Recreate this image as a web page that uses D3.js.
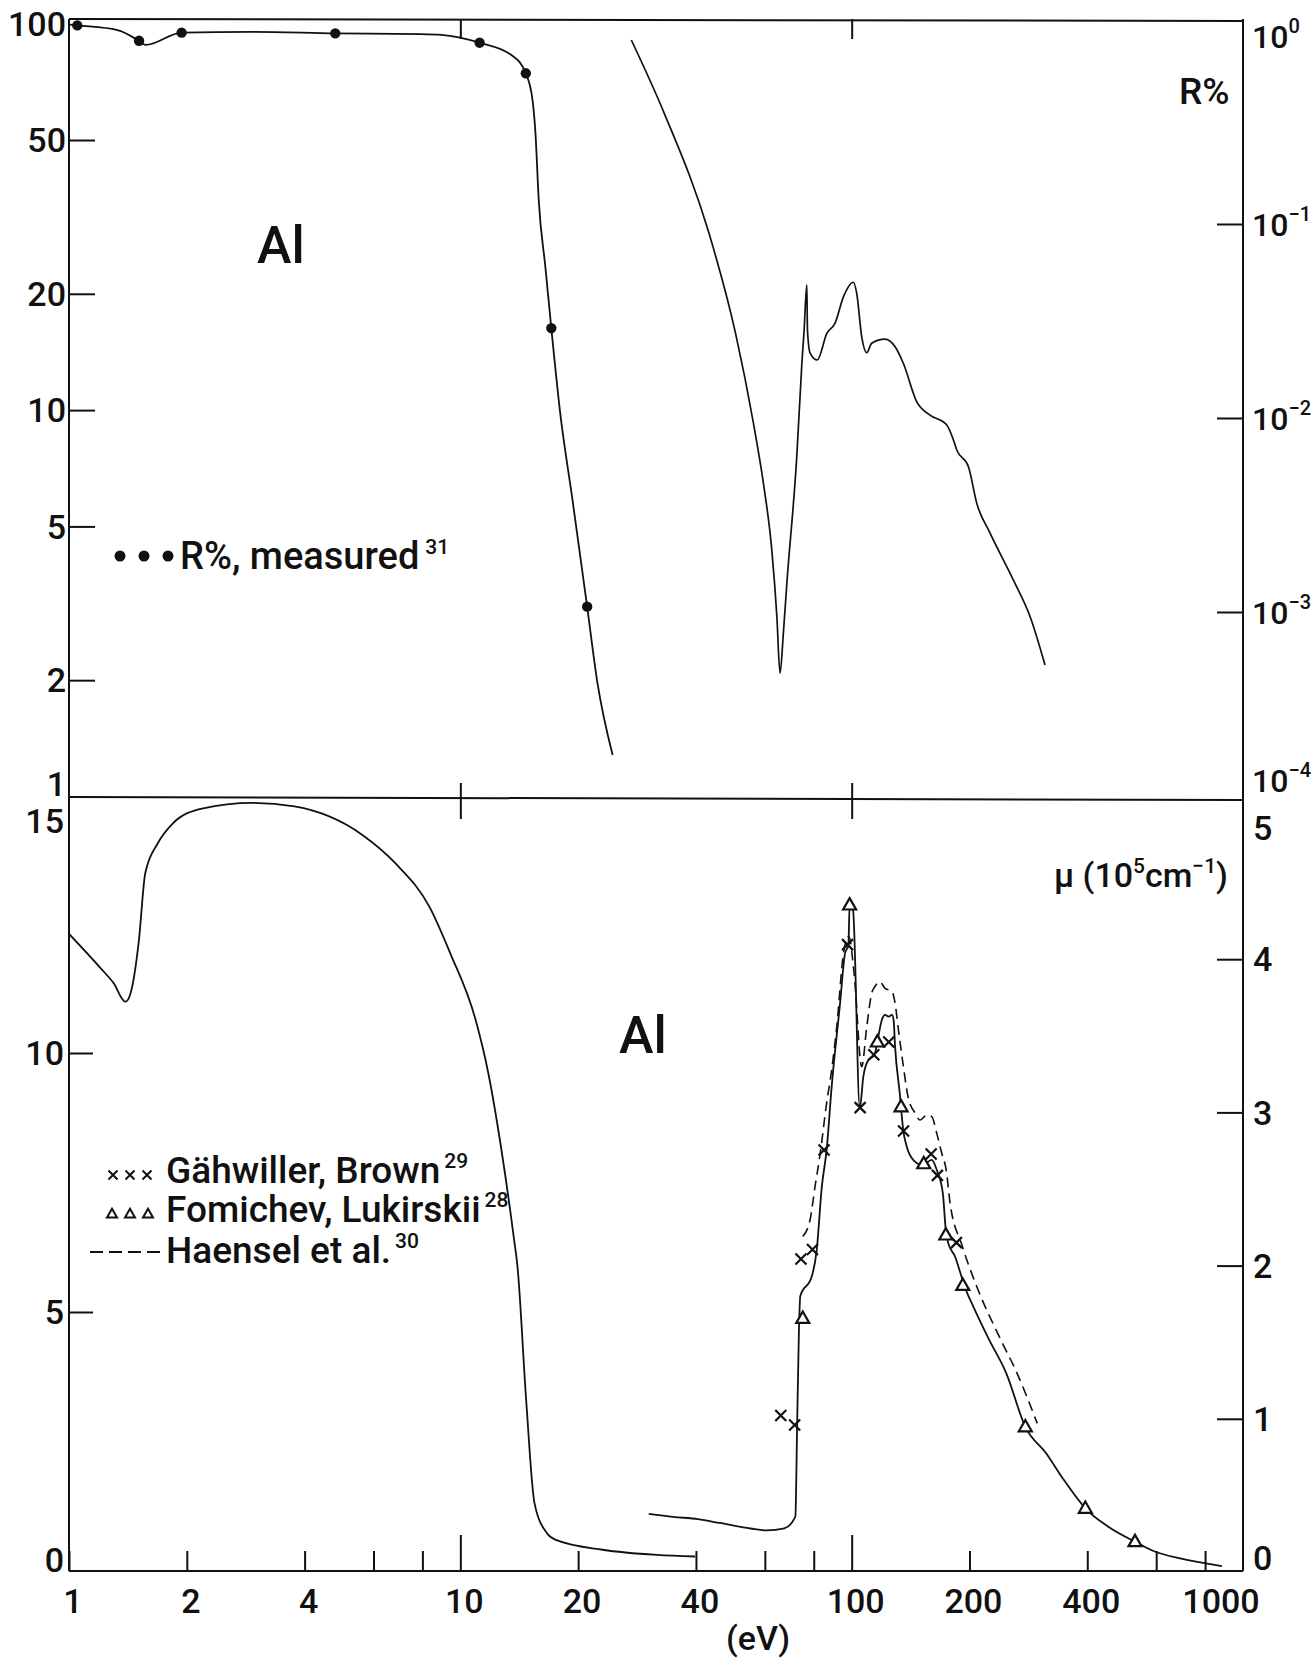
<!DOCTYPE html>
<html><head><meta charset="utf-8">
<script src="https://cdn.jsdelivr.net/npm/d3@7"></script>
<style>
html,body{margin:0;padding:0;background:#fff;}
svg text{font-family:Roboto,"DejaVu Sans",sans-serif;font-weight:500;fill:#111;}
</style></head><body>
<svg id="chart" width="1316" height="1659"></svg>
<script>
// ---------- data: photon energy in eV ----------
const energyTicks = [1, 2, 4, 6, 8, 10, 20, 40, 60, 80, 100, 200, 400, 600, 800];
const energyLabels = [1, 2, 4, 10, 20, 40, 100, 200, 400, 1000];
const reflLabels = [100, 50, 20, 10, 5, 2, 1];
const reflTicks = [50, 20, 10, 5, 2];
const reflHighExponents = [0, -1, -2, -3, -4];
const reflHighTicks = [1e-1, 1e-2, 1e-3];
const lowLabels = [0, 5, 10, 15];
const lowTicks = [5, 10];
const muLabels = [0, 1, 2, 3, 4, 5];
const muTicks = [1, 2, 3, 4];

// reflectance R% (left scale), measured points and smooth curve
const reflMeasured = [[1.05, 99], [1.51, 90.3], [1.94, 94.8], [4.79, 94.4], [11.2, 89.3],
  [14.7, 74.4], [17.08, 16.3], [21.09, 3.10]];
const reflLow = [[1.0, 99.5], [1.05, 99], [1.33, 96.3], [1.51, 90.3], [1.57, 88.1], [1.94, 94.8],
  [2.94, 95.3], [4.79, 94.4], [7.93, 94.0], [8.95, 93.6], [11.2, 89.3], [13.5, 83], [14.7, 74.4],
  [15.29, 63.5], [15.56, 52], [15.86, 35], [16.49, 23.5], [17.08, 16.3], [17.96, 10.0],
  [19.35, 5.85], [21.09, 3.10], [22.4, 1.97], [24.5, 1.28]];
// reflectance R% at higher energies (right log scale)
const reflHigh = [[27.35, 0.888], [33.2, 0.372], [43.2, 0.0895], [50.5, 0.0273], [56.1, 0.0094],
  [59.5, 0.0046], [62.5, 0.00209], [64.4, 0.000946], [65.6, 0.000483], [66.9, 0.000776],
  [68.3, 0.00141], [72.4, 0.00632], [74.6, 0.0191], [75.6, 0.0284], [76.8, 0.0485], [77.1, 0.0284],
  [78.3, 0.0216], [81.7, 0.0199], [86.4, 0.0273], [90.7, 0.0308], [95.3, 0.0422], [101, 0.0501],
  [103, 0.044], [106.1, 0.0262], [109.3, 0.0217], [112.5, 0.0243], [121.7, 0.0255], [129.1, 0.0233],
  [135.6, 0.0191], [146.7, 0.0121], [158.6, 0.01035], [175, 0.0092], [182, 0.0077], [185.6, 0.00684],
  [198.8, 0.00561], [208.8, 0.00363], [225.8, 0.00255], [259, 0.00146], [285.8, 0.000946], [312, 0.000533]];

// lower panel, left scale (1 - 40 eV)
const lowEnergyCurve = [[1.0, 12.3], [1.207, 11.63], [1.30, 11.35], [1.394, 10.99], [1.436, 11.15],
  [1.509, 12.18], [1.566, 13.47], [1.686, 14.05], [1.84, 14.43], [2.186, 14.72], [2.94, 14.83],
  [3.77, 14.76], [5.62, 14.21], [6.83, 13.66], [8.34, 12.82], [9.43, 11.92], [10.94, 10.64],
  [11.79, 9.61], [12.7, 8.19], [13.69, 6.45], [14.0, 5.87], [14.73, 3.30], [15.47, 1.31],
  [16.65, 0.73], [17.55, 0.60], [23.1, 0.41], [31.8, 0.31], [39.8, 0.28]];

// absorption coefficient mu (10^5 cm^-1), right scale
const muSolid = [[30.3, 0.38], [35, 0.36], [40.5, 0.345], [46, 0.32], [52, 0.295], [60.6, 0.272],
  [67.3, 0.285], [71.8, 0.361], [72.5, 0.905], [73.3, 1.56], [73.9, 1.80], [79.1, 1.93], [81.4, 2.10],
  [83.9, 2.515], [86.3, 2.755], [88.9, 3.168], [93.4, 3.712], [96.2, 4.04], [98.1, 4.09], [98.8, 4.354],
  [100.8, 4.32], [104.9, 3.027], [107.1, 3.233], [110.3, 3.342], [114.3, 3.375], [116.3, 3.46],
  [119.4, 3.603], [121.7, 3.636], [124.3, 3.625], [126.8, 3.636], [128, 3.603], [129.1, 3.429],
  [132.7, 3.125], [135.6, 2.874], [138.3, 2.776], [143.8, 2.689], [152, 2.657], [160.2, 2.69],
  [165, 2.624], [171, 2.472], [174, 2.232], [176.6, 2.145], [183.8, 2.058], [189.7, 1.95],
  [194.5, 1.862], [204.6, 1.732], [223.6, 1.525], [248.4, 1.297], [277.8, 0.948], [314, 0.775],
  [348.7, 0.60], [395.4, 0.416], [452.7, 0.296], [529.7, 0.198], [597, 0.132], [691, 0.089], [883, 0.039]];
const muDashed = [[75.0, 2.19], [78.3, 2.30], [80.6, 2.515], [83.1, 2.733], [86.3, 3.06], [88.9, 3.277],
  [91.6, 3.559], [95.3, 4.04], [98.3, 4.15], [101.5, 3.9], [106.1, 3.298], [109.3, 3.56], [112.5, 3.777],
  [114.6, 3.82], [117.9, 3.853], [121.7, 3.81], [126.8, 3.79], [129.1, 3.712], [131.7, 3.538],
  [135.6, 3.298], [139.3, 3.103], [145.4, 2.994], [149.6, 2.95], [155.5, 2.983], [160.2, 2.972],
  [165, 2.863], [169.9, 2.733], [174.4, 2.624], [178.4, 2.41], [191.3, 2.134], [209, 1.86],
  [239.5, 1.525], [264.7, 1.297], [298, 0.97]];
const gahwillerBrown = [[65.9, 1.021], [71.5, 0.959], [74.2, 2.043], [79.4, 2.105], [85.0, 2.754],
  [97.6, 4.095], [105.1, 3.031], [113.9, 3.376], [124.4, 3.459], [135.7, 2.878], [159.6, 2.728],
  [165.6, 2.589], [185.2, 2.15]];
const fomichevLukirskii = [[75.0, 1.656], [98.8, 4.354], [116.3, 3.46], [133.7, 3.037], [152.8, 2.665],
  [174, 2.2], [192.3, 1.871], [277.8, 0.948], [395.4, 0.416], [529.7, 0.198]];

// ---------- layout ----------
const X0 = 69, X1 = 1243, TOP = 19, MID = 797, BOT = 1571;
const svg = d3.select("#chart");
svg.append("rect").attr("width", 1316).attr("height", 1659).attr("fill", "#fff");

const x = d3.scaleLog().domain([1, 1000]).range([X0, X1]);
const yReflL = d3.scaleLog().domain([1, 100]).range([796.5, 23.7]);
const yReflR = d3.scaleLog().domain([1e-4, 1]).range([806, 30]);
const yLow = d3.scaleLinear().domain([0, 15]).range([BOT, 794]);
const yMu = d3.scaleLinear().domain([0, 5]).range([1572, 806]);

const ink = "#111";
const defs = svg.append("defs");
defs.append("clipPath").attr("id", "cTop").append("rect").attr("x", X0).attr("y", TOP).attr("width", X1 - X0).attr("height", MID - TOP);
defs.append("clipPath").attr("id", "cBot").append("rect").attr("x", X0).attr("y", MID).attr("width", X1 - X0).attr("height", BOT - MID);

// ---------- axes (ticks inward) ----------
function styleAxis(g) {
  g.select(".domain").remove();
  g.selectAll("line").attr("stroke", ink).attr("stroke-width", 2);
  g.selectAll("text").remove();
}
svg.append("g").attr("transform", `translate(0,${BOT})`)
  .call(d3.axisBottom(x).tickValues(energyTicks).tickSize(-20).tickSizeOuter(0)).call(styleAxis)
  .selectAll(".tick line").filter(d => d === 10 || d === 100).attr("y2", -36);
svg.append("g").attr("transform", `translate(0,${TOP})`)
  .call(d3.axisTop(x).tickValues([10, 100]).tickSize(-20).tickSizeOuter(0)).call(styleAxis);
svg.append("g").attr("transform", `translate(0,${MID})`)
  .call(d3.axisBottom(x).tickValues([10, 100]).tickSize(22).tickSizeOuter(0)).call(styleAxis);
svg.append("g").attr("transform", `translate(0,${MID})`)
  .call(d3.axisTop(x).tickValues([10, 100]).tickSize(14).tickSizeOuter(0)).call(styleAxis);
svg.append("g").attr("transform", `translate(${X0},0)`)
  .call(d3.axisLeft(yReflL).tickValues(reflTicks).tickSize(-26).tickSizeOuter(0)).call(styleAxis);
svg.append("g").attr("transform", `translate(${X1},0)`)
  .call(d3.axisRight(yReflR).tickValues(reflHighTicks).tickSize(-26).tickSizeOuter(0)).call(styleAxis);
svg.append("g").attr("transform", `translate(${X0},0)`)
  .call(d3.axisLeft(yLow).tickValues(lowTicks).tickSize(-24).tickSizeOuter(0)).call(styleAxis);
svg.append("g").attr("transform", `translate(${X1},0)`)
  .call(d3.axisRight(yMu).tickValues(muTicks).tickSize(-26).tickSizeOuter(0)).call(styleAxis);

// frame
const frame = svg.append("g").attr("stroke", ink).attr("stroke-width", 2).attr("fill", "none");
frame.append("line").attr("x1", X0).attr("x2", X1).attr("y1", TOP).attr("y2", TOP + 2);
frame.append("line").attr("x1", X0).attr("x2", X1).attr("y1", MID).attr("y2", MID + 3);
frame.append("line").attr("x1", X0).attr("x2", X1).attr("y1", BOT).attr("y2", BOT);
frame.append("line").attr("x1", X0).attr("x2", X0).attr("y1", TOP).attr("y2", BOT);
frame.append("line").attr("x1", X1).attr("x2", X1).attr("y1", TOP).attr("y2", BOT);

// ---------- tick labels ----------
const fs = 34;
const clamp = (v, lo, hi) => Math.max(lo, Math.min(hi, v));
svg.append("g").selectAll("text").data(energyLabels).join("text")
  .attr("x", d => x(d) + (d === 1000 ? -22 : 4)).attr("y", 1613)
  .attr("text-anchor", "middle").attr("font-size", fs).text(d => d);
svg.append("text").attr("x", 758).attr("y", 1650).attr("text-anchor", "middle")
  .attr("font-size", fs).text("(eV)");

svg.append("g").selectAll("text").data(reflLabels).join("text")
  .attr("x", 66).attr("y", d => Math.min(yReflL(d), MID - 13))
  .attr("dy", "0.36em").attr("text-anchor", "end").attr("font-size", fs).text(d => d);
svg.append("g").selectAll("text").data(lowLabels).join("text")
  .attr("x", 64).attr("y", d => clamp(yLow(d), MID + 24, BOT - 11))
  .attr("dy", "0.36em").attr("text-anchor", "end").attr("font-size", fs).text(d => d);
svg.append("g").selectAll("text").data(muLabels).join("text")
  .attr("x", 1253).attr("y", d => clamp(yMu(d), MID + 31, BOT - 13))
  .attr("dy", "0.36em").attr("font-size", fs).text(d => d);
const hiLab = svg.append("g").selectAll("text").data(reflHighExponents).join("text")
  .attr("x", 1252).attr("y", d => clamp(yReflR(Math.pow(10, d)), TOP + 17, MID - 17))
  .attr("dy", "0.36em").attr("font-size", 32);
hiLab.append("tspan").text("10");
hiLab.append("tspan").attr("font-size", 20).attr("dy", "-0.75em").text(d => d === 0 ? "0" : "\u2212" + (-d));

// ---------- axis titles and annotations ----------
svg.append("text").attr("x", 1179).attr("y", 104).attr("font-size", 37).text("R%");
const muT = svg.append("text").attr("x", 1228).attr("y", 887).attr("font-size", 34).attr("text-anchor", "end");
muT.append("tspan").text("\u03bc (10");
muT.append("tspan").attr("font-size", 21).attr("dy", -14).text("5");
muT.append("tspan").attr("dy", 14).text("cm");
muT.append("tspan").attr("font-size", 21).attr("dy", -14).text("\u22121");
muT.append("tspan").attr("dy", 14).text(")");
svg.append("text").attr("x", 257).attr("y", 263).attr("font-size", 52).attr("font-weight", "bold").text("Al");
svg.append("text").attr("x", 619).attr("y", 1053).attr("font-size", 52).attr("font-weight", "bold").text("Al");

// ---------- curves ----------
const lineTop = d3.line().x(d => x(d[0])).curve(d3.curveMonotoneX);
const gTop = svg.append("g").attr("clip-path", "url(#cTop)");
const gBot = svg.append("g").attr("clip-path", "url(#cBot)");
gTop.append("path").datum(reflLow).attr("fill", "none").attr("stroke", ink).attr("stroke-width", 1.8)
  .attr("d", lineTop.y(d => yReflL(d[1])));
gTop.append("path").datum(reflHigh).attr("fill", "none").attr("stroke", ink).attr("stroke-width", 1.7)
  .attr("d", d3.line().x(d => x(d[0])).y(d => yReflR(d[1])).curve(d3.curveMonotoneX));
gTop.append("g").selectAll("circle").data(reflMeasured).join("circle")
  .attr("cx", d => x(d[0])).attr("cy", d => yReflL(d[1])).attr("r", 5.2).attr("fill", ink);

gBot.append("path").datum(lowEnergyCurve).attr("fill", "none").attr("stroke", ink).attr("stroke-width", 1.8)
  .attr("d", d3.line().x(d => x(d[0])).y(d => yLow(d[1])).curve(d3.curveMonotoneX));
const muLine = d3.line().x(d => x(d[0])).y(d => yMu(d[1])).curve(d3.curveMonotoneX);
gBot.append("path").datum(muSolid).attr("fill", "none").attr("stroke", ink).attr("stroke-width", 1.8).attr("d", muLine);
gBot.append("path").datum(muDashed).attr("fill", "none").attr("stroke", ink).attr("stroke-width", 1.6)
  .attr("stroke-dasharray", "10 6").attr("d", muLine);

const crossPath = s => `M${-s},${-s}L${s},${s}M${-s},${s}L${s},${-s}`;
const triPath = s => `M0,${-s * 1.05}L${s},${s * 0.7}L${-s},${s * 0.7}Z`;
gBot.append("g").selectAll("path").data(gahwillerBrown).join("path")
  .attr("transform", d => `translate(${x(d[0])},${yMu(d[1])})`)
  .attr("d", crossPath(5.5)).attr("stroke", ink).attr("stroke-width", 2.2).attr("fill", "none");
gBot.append("g").selectAll("path").data(fomichevLukirskii).join("path")
  .attr("transform", d => `translate(${x(d[0])},${yMu(d[1])})`)
  .attr("d", triPath(6.5)).attr("stroke", ink).attr("stroke-width", 2.2).attr("fill", "#fff");

// ---------- legends ----------
const legTop = svg.append("g");
[120, 144, 168].forEach(cx => legTop.append("circle").attr("cx", cx).attr("cy", 556).attr("r", 5.5).attr("fill", ink));
const lt = legTop.append("text").attr("x", 180).attr("y", 569).attr("font-size", 38);
lt.append("tspan").text("R%, measured");
lt.append("tspan").attr("font-size", 21).attr("dx", 6).attr("dy", -15).text("31");

const legBot = svg.append("g");
const legRows = [
  { y: 1183, name: "G\u00e4hwiller, Brown", ref: "29", sym: "x" },
  { y: 1222, name: "Fomichev, Lukirskii", ref: "28", sym: "t" },
  { y: 1263, name: "Haensel et al.", ref: "30", sym: "d" }
];
legRows.forEach(r => {
  if (r.sym === "x") {
    [113, 130, 147].forEach(cx => legBot.append("path").attr("transform", `translate(${cx},${r.y - 8})`)
      .attr("d", crossPath(4.5)).attr("stroke", ink).attr("stroke-width", 2).attr("fill", "none"));
  } else if (r.sym === "t") {
    [112, 130, 148].forEach(cx => legBot.append("path").attr("transform", `translate(${cx},${r.y - 8})`)
      .attr("d", triPath(5)).attr("stroke", ink).attr("stroke-width", 2).attr("fill", "none"));
  } else {
    legBot.append("line").attr("x1", 90).attr("x2", 165).attr("y1", r.y - 11).attr("y2", r.y - 11)
      .attr("stroke", ink).attr("stroke-width", 2).attr("stroke-dasharray", "13 6");
  }
  const t = legBot.append("text").attr("x", 166).attr("y", r.y).attr("font-size", 37);
  t.append("tspan").text(r.name);
  t.append("tspan").attr("font-size", 21).attr("dx", 4).attr("dy", -15).text(r.ref);
});
</script>
</body></html>
